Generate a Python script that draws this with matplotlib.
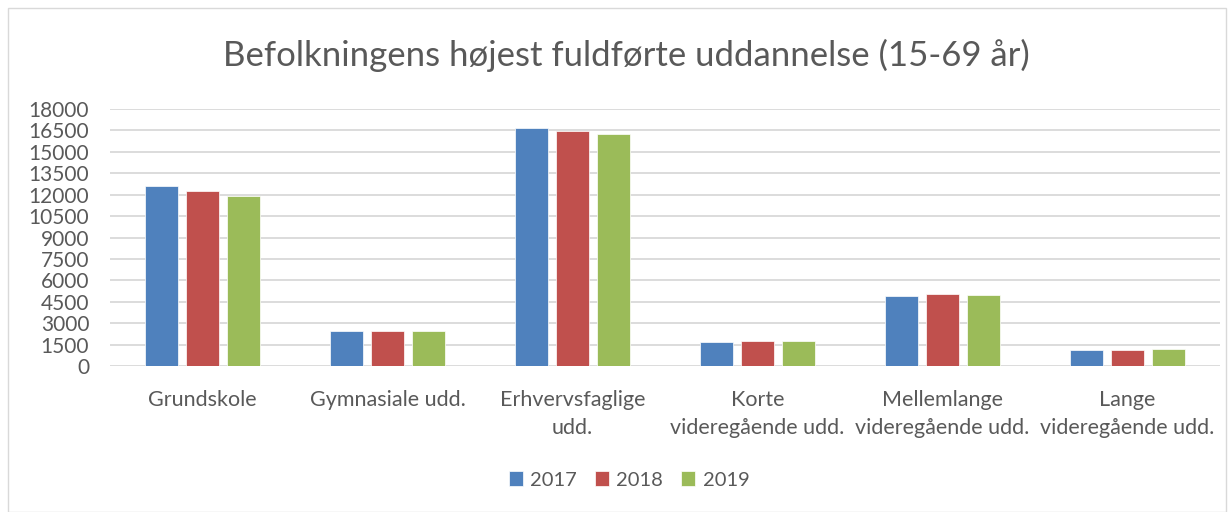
import numpy as np
import matplotlib
matplotlib.use("Agg")
import matplotlib.pyplot as plt
from matplotlib.patches import Rectangle

categories = ["Grundskole", "Gymnasiale udd.", "Erhvervsfaglige\nudd.",
              "Korte\nvideregående udd.", "Mellemlange\nvideregående udd.",
              "Lange\nvideregående udd."]
years = ["2017", "2018", "2019"]
v2017 = [12600, 2430, 16640, 1710, 4930, 1100]
v2018 = [12250, 2430, 16480, 1730, 5025, 1120]
v2019 = [11900, 2480, 16250, 1750, 4980, 1170]
yticks = list(range(0, 18001, 1500))

colors = ["#4f81bd", "#c0504d", "#9bbb59"]
text_col = "#595959"

plt.rcParams['font.family'] = ['Lato', 'DejaVu Sans']

fig = plt.figure(figsize=(12.29, 5.12), dpi=100)
ax = fig.add_axes([110 / 1229, 1 - 366 / 512, 1110 / 1229, 257 / 512])

x = np.arange(len(categories))
w = 0.175
for i, (vals, lab) in enumerate(zip([v2017, v2018, v2019], years)):
    ax.bar(x + (i - 1) * 0.222, vals, w, color=colors[i], label=lab, zorder=3,
           edgecolor="white", linewidth=0.5)

ax.set_xlim(-0.5, len(categories) - 0.5)
ax.set_ylim(0, 18000)
ax.set_yticks(yticks)
ax.set_yticklabels([str(t) for t in yticks])
ax.set_xticks(x)
ax.set_xticklabels(categories, fontsize=15.5, linespacing=1.55)
ax.grid(axis="y", color="#d9d9d9", linewidth=1.3, zorder=0)
for s in ax.spines.values():
    s.set_visible(False)
ax.tick_params(axis="both", length=0, colors=text_col)
ax.tick_params(axis="y", labelsize=15, pad=15)
ax.tick_params(axis="x", pad=17)

fig.text(0.51, 1 - 55 / 512, "Befolkningens højest fuldførte uddannelse (15-69 år)",
         ha="center", va="center", fontsize=25, color=text_col)

fig.legend(loc="center", bbox_to_anchor=(0.512, 1 - 480 / 512), ncol=3, frameon=False,
           fontsize=14.5, labelcolor=text_col, handlelength=0.7, handleheight=0.7,
           handletextpad=0.35, columnspacing=0.9)

fig.patches.append(Rectangle((8 / 1229, 0), 1218 / 1229, 504 / 512,
                             transform=fig.transFigure, fill=False,
                             edgecolor="#d9d9d9", linewidth=1))

fig.savefig("out.png", dpi=100)
